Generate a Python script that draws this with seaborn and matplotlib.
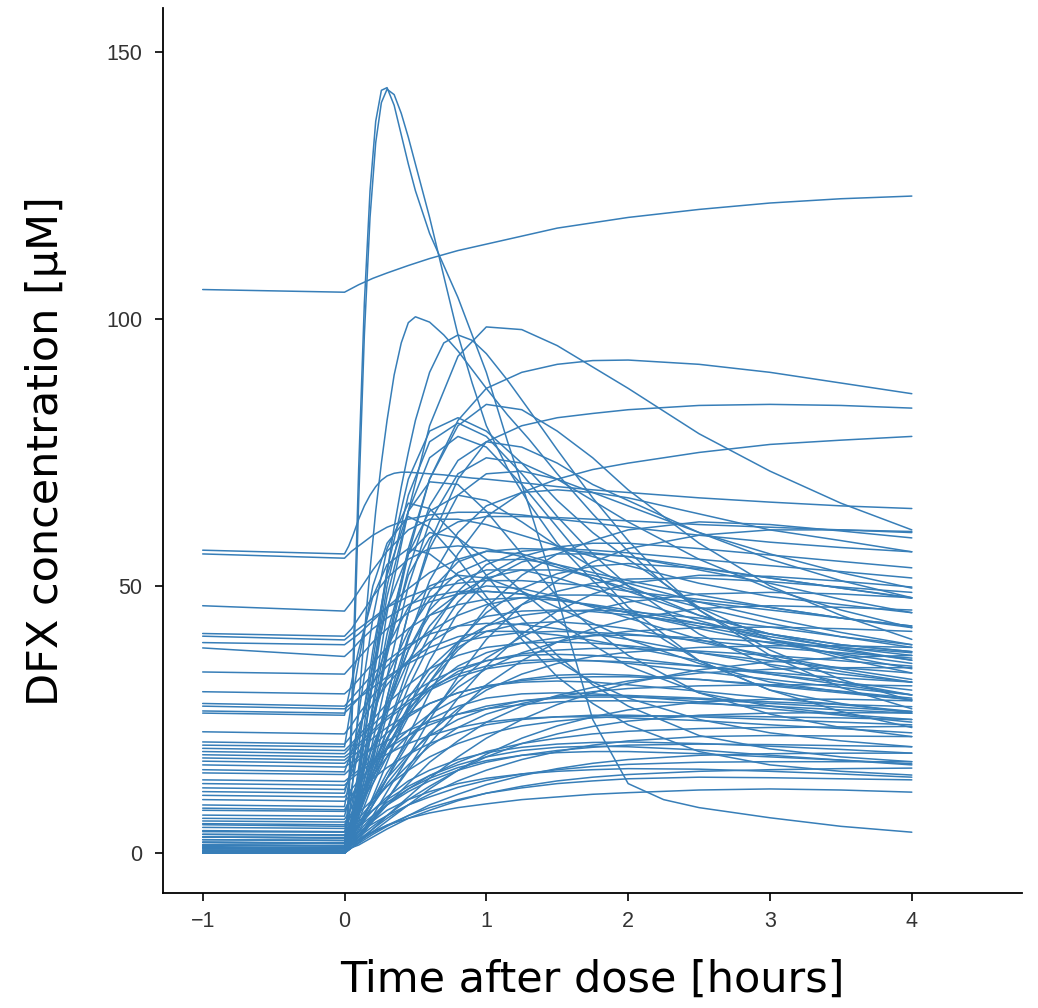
import matplotlib
matplotlib.use("Agg")
import matplotlib.pyplot as plt
import seaborn as sns
import pandas as pd

# Sampling times relative to the dose (hours)
hours = [-1, 0, 0.05, 0.1, 0.2, 0.3, 0.45, 0.6, 0.8, 1.0, 1.25, 1.5, 1.75, 2.0, 2.5, 3.0, 3.5, 4.0]
# Denser sampling used for the patients with a rapid early peak
hours_fine = [-1, 0, 0.03, 0.06, 0.1, 0.14, 0.18, 0.22, 0.26, 0.3, 0.35, 0.4, 0.45, 0.5, 0.6,
              0.7, 0.8, 0.9, 1.0, 1.15, 1.3, 1.5, 1.75, 2.0, 2.25, 2.5, 3.0, 3.5, 4.0]

# Rapid-absorption patients (uM), sampled on hours_fine
p02 = [0.3, 0.2, 12, 35, 72, 103, 124, 137, 142.8, 143.3, 140, 134.5, 129, 124, 116, 110, 104, 97, 90,
       77, 65, 48, 25, 13, 10, 8.5, 6.6, 5.0, 3.9]
p03 = [1.0, 0.8, 9, 30, 66, 97, 119, 133, 140.5, 143, 142, 138.5, 134, 129, 119, 108, 97, 88, 80,
       72, 65.5, 58, 51, 45, 40, 36, 30.5, 26.5, 23.5]
p04 = [0.5, 0.4, 6, 14, 28, 41, 53, 64, 73, 81, 89.5, 95.5, 99.3, 100.4, 99.4, 97, 94, 90.5, 87,
       82, 77.5, 71, 63.5, 56.5, 50.5, 45.5, 38, 32.5, 28.5]
p06 = [0.0, 0.0, 2.5, 6, 13, 21, 29, 37, 45, 52.5, 61, 68.5, 75, 81, 90, 95.5, 97, 96, 93.5,
       88.5, 83, 75.5, 66.5, 58.5, 51.5, 45.5, 37, 31, 27]
p10 = [56.7, 56.0, 57.5, 59.5, 62.5, 65, 67, 68.6, 69.8, 70.6, 71.1, 71.3, 71.3, 71.2, 71, 70.8, 70.5, 70.2, 70,
       69.6, 69.2, 68.6, 68, 67.5, 67, 66.5, 65.7, 65, 64.5]

# Remaining patients (uM), sampled on hours
p01 = [105.5, 105.0, 105.7, 106.4, 107.6, 108.6, 110.0, 111.3, 112.8, 114.0, 115.5, 117.0, 118.0, 119.0, 120.5, 121.7, 122.5, 123.0]
p05 = [2.0, 1.8, 6, 12, 28, 45, 64, 80, 93, 98.5, 98, 95, 91, 87, 78.5, 71.5, 65.5, 60.5]
p07 = [1.5, 1.3, 5, 11, 25, 39, 57, 70, 81, 87, 90, 91.5, 92.2, 92.3, 91.5, 90, 88, 86]
p08 = [0.8, 0.6, 3.5, 8, 18, 29, 45, 58, 70, 77, 80, 81.5, 82.3, 83, 83.8, 84, 83.8, 83.3]
p09 = [3.0, 2.8, 5, 8, 15, 23, 35, 46, 56, 63, 67.5, 70, 71.8, 73, 75, 76.5, 77.3, 78]
p11 = [56.0, 55.2, 56.5, 57.5, 59.5, 61, 62.5, 63.3, 63.8, 63.8, 63.3, 62.5, 61.8, 61, 59.5, 58.2, 57.2, 56.4]
p12 = [0.2, 0.1, 4, 10, 24, 38, 56, 70, 80, 84, 83, 79, 74, 68, 58, 50, 44.5, 40]
p13 = [0.0, 0.0, 7, 16, 36, 53, 70, 79, 81.5, 79, 73, 66, 60, 55, 46, 40, 36.5, 33.7]
p14 = [1.2, 1.0, 6, 14, 33, 50, 67, 77, 80.5, 78, 71, 63, 56, 50, 41, 35, 32, 29.6]
p15 = [4.2, 4.0, 9, 15, 32, 48, 64, 74, 78, 76, 69, 61, 53, 46, 36, 30.5, 28, 26.2]
p16 = [3.5, 3.3, 6, 11, 24, 37, 53, 65, 73.5, 77, 76, 73, 69, 66, 60, 55, 51, 47.8]
p17 = [0.5, 0.4, 3, 7, 17, 29, 45, 57, 67, 71, 71.5, 70, 67.5, 65, 60, 56, 52.5, 49.6]
p18 = [7.1, 6.9, 12, 20, 38, 52, 64, 69.5, 69, 64, 56, 48, 42, 37, 30, 26, 23.5, 21.8]
p19 = [9.0, 8.7, 16, 26, 44, 57, 65.5, 64.5, 59, 52, 44, 37, 31.5, 27.5, 22, 19.5, 18, 17.1]
p20 = [20.2, 19.9, 28, 36, 50, 58, 63, 61, 55, 48, 40, 33, 28, 24, 19, 16.5, 15.3, 14.6]
p21 = [11.5, 11.2, 16, 22, 35, 46, 56, 60, 59, 55, 49, 43.5, 39, 35, 30, 27.5, 26, 25]
p22 = [26.2, 25.8, 32, 38, 48, 54, 57, 56, 52, 47, 41, 36, 32, 29, 25, 22.5, 21, 19.9]
p23 = [0.0, 0.0, 4, 9, 21, 33, 50, 62, 71, 74, 73, 70, 66, 62, 55, 49.5, 45.5, 42.2]
p24 = [2.0, 1.8, 6, 12, 27, 41, 56, 64, 67, 66, 62, 57.5, 53.5, 50, 44.5, 41, 39, 37.7]
p25 = [0.0, 0.0, 3, 7, 16, 26, 40, 51, 60, 65, 67.5, 68, 67.5, 66.5, 63.5, 60.5, 58.5, 56.4]
p26 = [2.5, 2.3, 3.5, 5, 9, 14, 22, 30, 39, 46, 52, 56, 58.5, 60.5, 62, 61.5, 60.3, 59]
p27 = [0.0, 0.0, 1.5, 3, 7, 11.5, 18, 25, 33, 40, 46.5, 51, 54.5, 57, 59.5, 60.5, 60.5, 60.2]
p28 = [1.5, 1.3, 4, 7, 14, 21, 31, 39, 47, 52, 55.5, 57.3, 58, 58, 57, 55.8, 54.6, 53.4]
p29 = [5.3, 5.0, 7, 9.5, 16, 23, 33, 41, 49, 54, 56.5, 57, 56.7, 56.2, 55, 53.8, 52.7, 51.5]
p30 = [0.2, 0.1, 2, 4.5, 10.5, 17, 27, 36, 45, 51, 54.5, 56, 56, 55.5, 53, 50.5, 47.5, 45]
p31 = [12.2, 11.9, 15, 18.5, 26, 33, 41.5, 47.5, 52.5, 54.8, 55, 54, 52.5, 51, 48.3, 46, 44, 42.2]
p32 = [6.0, 5.8, 7, 9, 13, 18, 25.5, 32, 39.5, 45, 49.5, 52.3, 53.7, 54.2, 53.3, 51.5, 49.6, 47.7]
p33 = [8.4, 8.1, 10.5, 13.5, 20, 27, 36, 42.5, 48.5, 51.5, 53, 53, 52, 50.5, 47, 44, 41.3, 39]
p34 = [0.0, 0.0, 1, 2.5, 6, 10, 16, 22, 29, 35, 41, 45.3, 48.5, 50.5, 52, 51.8, 50.9, 49.8]
p35 = [3.0, 2.8, 6, 10, 19, 28, 38, 44.5, 48.5, 50, 49.5, 48, 46, 44, 40, 36.5, 34, 32]
p36 = [1.0, 0.9, 4, 8.5, 18, 28, 40.5, 49, 54.5, 56.5, 56, 54, 51.5, 49, 44.5, 41, 38.3, 36.1]
p37 = [15.6, 15.2, 19, 23, 31.5, 38.5, 46, 50, 52, 51.5, 49, 46, 43, 40, 35.5, 32, 30.2, 28.7]
p38 = [0.5, 0.4, 1.5, 3, 6.5, 10, 15.5, 20.5, 26.5, 31.5, 36, 39.5, 42, 43.8, 45.8, 46.3, 46, 45.5]
p39 = [46.3, 45.3, 47, 49, 53, 56.5, 60.5, 62.5, 62.5, 61.5, 59.5, 57.5, 55.5, 53.8, 50.5, 48, 46.5, 45]
p40 = [41.1, 40.6, 42, 44, 48, 51.5, 55, 57, 57.5, 57, 55.5, 53.5, 51.5, 49.5, 46, 43, 40.5, 38.5]
p41 = [40.6, 39.9, 41, 42, 44, 46, 48, 49.5, 50.5, 51, 51, 50.5, 50, 49, 47.5, 46, 44, 42.5]
p42 = [39.4, 39.0, 40, 41, 43.5, 46, 49.5, 52.5, 55, 56.5, 57, 56.8, 56.2, 55.5, 53.5, 51.5, 49.6, 47.8]
p43 = [38.4, 36.8, 38, 39.5, 42, 44, 46.5, 48, 49, 49, 48.5, 47.5, 46.3, 45, 42.5, 40, 38, 36.1]
p44 = [33.9, 33.5, 35, 36.5, 39.5, 42, 45, 47, 48.5, 49, 48.5, 47.5, 46.3, 45, 42, 39.3, 37.3, 35.5]
p45 = [30.2, 29.8, 31, 32.5, 35.5, 38.5, 42, 44.5, 46.5, 47.5, 47.8, 47.3, 46.5, 45.5, 43, 40.5, 38.5, 37]
p46 = [28.0, 27.5, 29, 30.5, 33.5, 36, 39, 41, 42.5, 43, 42.8, 42, 41, 40, 37.5, 35.3, 33.5, 32]
p47 = [27.5, 27.0, 28, 29, 31, 33, 35.5, 37.5, 39.5, 40.5, 41.3, 41.5, 41.3, 41, 39.8, 38.5, 37.5, 36.5]
p48 = [26.6, 26.2, 27.5, 29, 32, 35, 38.5, 41.5, 44.5, 46.5, 47.8, 48.3, 48.3, 48, 47, 45.5, 44, 42.5]
p49 = [22.7, 22.3, 24, 26, 29.5, 32.5, 36, 38.5, 40.5, 41.5, 41.5, 40.8, 39.8, 38.6, 36, 33.5, 31.5, 29.6]
p50 = [20.8, 20.4, 22, 24, 28, 31.5, 36, 39.5, 42.5, 44.3, 45.3, 45.5, 45.2, 44.6, 43, 41, 39, 37.7]
p51 = [19.6, 19.2, 20.5, 22, 25, 28, 31.5, 34.5, 37, 38.5, 39.3, 39.5, 39.3, 38.8, 37.5, 36, 34.7, 33.7]
p52 = [19.0, 18.6, 20, 21.5, 24, 26.5, 29.5, 32, 34.5, 36, 37.3, 38, 38.3, 38.3, 37.8, 37, 36, 35]
p53 = [18.4, 18.0, 19, 20.5, 23, 25.5, 28.5, 31, 33.5, 35, 36, 36.3, 36, 35.5, 34, 32.5, 31, 29.6]
p54 = [17.8, 17.4, 18.5, 20, 22.5, 25, 28, 30.5, 33, 34.5, 35.5, 36, 36, 35.8, 35, 33.8, 32.8, 32]
p55 = [17.2, 16.8, 18, 19, 21.5, 23.5, 26, 28, 30, 31.3, 32.3, 32.8, 33, 33, 32.5, 31.5, 30.3, 29]
p56 = [16.5, 16.1, 17, 18, 19.5, 21, 23, 24.5, 26, 27, 27.8, 28.3, 28.5, 28.5, 28, 27.5, 26.8, 26.2]
p57 = [15.0, 14.7, 16, 17.5, 20, 22.5, 25.5, 28, 30, 31.3, 32, 32.2, 32, 31.5, 30.3, 29, 27.8, 26.5]
p58 = [13.7, 13.4, 14.5, 15.5, 17.5, 19.5, 22, 24, 26, 27.5, 28.5, 29, 29.2, 29.2, 28.8, 28, 27.3, 26.5]
p59 = [13.0, 12.7, 14, 15, 17, 18.5, 20.5, 22, 23.5, 24.5, 25.2, 25.5, 25.5, 25.3, 24.8, 24, 23.3, 22.5]
p60 = [10.8, 10.5, 12, 13.5, 16.5, 19.5, 23, 26, 29, 31, 32.5, 33.3, 33.5, 33.3, 32.5, 31.3, 30, 28.7]
p61 = [10.0, 9.7, 11, 12, 14, 16, 18.5, 20.5, 22.5, 24, 25, 25.5, 25.8, 25.8, 25.5, 25, 24.5, 24]
p62 = [0.0, 0.0, 1.5, 2.5, 4, 5.2, 6.5, 7.5, 8.5, 9.2, 10, 10.5, 11, 11.3, 11.8, 12, 11.8, 11.4]
p63 = [0.3, 0.2, 2, 3.5, 6, 8, 10, 11.5, 13, 14, 14.8, 15.3, 15.6, 15.8, 15.7, 15.3, 14.8, 14.2]
p64 = [1.0, 0.9, 2.5, 4, 7, 9.5, 12, 14, 16, 17.3, 18.3, 18.8, 19, 19, 18.6, 18, 17.4, 16.7]
p65 = [2.0, 1.9, 3.5, 5, 8, 10.5, 13.5, 15.5, 17.5, 18.8, 19.8, 20.4, 20.7, 20.8, 20.5, 20, 19.4, 18.7]
p66 = [0.0, 0.0, 2, 3.5, 6.5, 9, 12, 14.5, 17, 19, 20.5, 21.5, 22.3, 22.8, 23.3, 23.5, 23.6, 23.7]
p67 = [4.8, 4.6, 6, 7.5, 10, 12.5, 15.5, 18, 20.5, 22.3, 23.8, 24.7, 25.3, 25.6, 25.7, 25.5, 25.3, 25]
p68 = [0.5, 0.4, 3, 5.5, 10, 14, 18.5, 22, 25, 27, 28.5, 29.2, 29.5, 29.5, 29, 28.3, 27.8, 27.4]
p69 = [6.5, 6.3, 8.5, 10.5, 14.5, 18, 22, 25, 27.5, 29, 29.8, 30, 29.8, 29.4, 28.3, 27, 25.8, 24.5]
p70 = [3.5, 3.4, 5, 6.5, 9.5, 12.5, 16.5, 20, 23.5, 26, 28, 29.3, 30.2, 30.8, 31.3, 31.5, 31.5, 31.3]
p71 = [0.0, 0.0, 1.5, 3, 6, 9, 13, 17, 21, 24.5, 27.5, 29.5, 31, 32.2, 33.7, 34.4, 34.7, 34.7]
p72 = [1.5, 1.4, 3, 5, 9, 13, 18, 22.5, 27, 30.5, 33.5, 35.5, 36.8, 37.6, 38.5, 38.8, 38.8, 38.5]
p73 = [2.5, 2.4, 5, 8, 14, 19.5, 26, 30.5, 34, 36, 37, 37.2, 37, 36.5, 35, 33.5, 32, 30.5]
p74 = [0.0, 0.0, 2.5, 5, 10, 15, 21, 26, 31, 34.5, 37.5, 39.5, 40.7, 41.5, 42.2, 42.3, 42, 41.5]
p75 = [8.0, 7.8, 10, 12.5, 17, 21.5, 27, 31, 35, 37.5, 39.3, 40.3, 40.7, 40.8, 40.3, 39.5, 38.5, 37.5]
p76 = [0.2, 0.1, 1, 2, 4.5, 7, 10.5, 14, 18, 21.5, 25, 27.8, 30, 31.8, 34.3, 35.8, 36.6, 37]
p77 = [0.0, 0.0, 1, 2, 4, 6, 9, 12, 15.5, 18.5, 21.5, 23.8, 25.5, 26.8, 28.3, 28.8, 28.8, 28.5]
p78 = [1.0, 0.9, 2, 3, 5, 7, 10, 12.5, 15.5, 18, 20.5, 22.3, 23.7, 24.7, 25.8, 26.2, 26.3, 26.2]
p79 = [0.5, 0.4, 1.5, 2.5, 4.5, 6.5, 9, 11, 13.5, 15.5, 17.5, 19, 20.2, 21, 21.8, 22, 21.9, 21.8]
p80 = [3.0, 2.9, 4, 5, 7, 9, 11.5, 13.5, 15.5, 17, 18.3, 19.2, 19.8, 20.2, 20.4, 20.3, 20.1, 19.9]
p81 = [0.0, 0.0, 1, 1.8, 3.5, 5, 7, 9, 11, 12.8, 14.5, 15.8, 16.8, 17.5, 18.3, 18.6, 18.7, 18.7]
p82 = [2.0, 1.9, 3, 4, 5.5, 7, 9, 10.5, 12.3, 13.6, 14.8, 15.6, 16.2, 16.6, 17, 17.1, 17.1, 17.1]
p83 = [0.0, 0.0, 1, 1.5, 3, 4.5, 6.5, 8, 9.8, 11.2, 12.5, 13.5, 14.2, 14.7, 15.3, 15.6, 15.8, 15.9]
p84 = [0.5, 0.4, 1.5, 2.3, 3.8, 5.2, 7, 8.5, 10, 11.2, 12.2, 13, 13.5, 13.9, 14.2, 14.1, 13.9, 13.7]
p85 = [4.0, 3.9, 5, 6, 8, 10, 12.5, 14.5, 16.5, 18, 19.2, 19.8, 20, 19.9, 19.3, 18.3, 17.4, 16.5]
p86 = [0.0, 0.0, 3, 6, 13, 19.5, 27.5, 33.5, 38.5, 41.5, 43, 43.3, 42.8, 42, 39.5, 37, 34.5, 32.5]
p87 = [1.5, 1.4, 4.5, 8, 15, 21.5, 29, 34.5, 39.5, 42.5, 44.5, 45.3, 45.5, 45.2, 44, 42.3, 40.5, 39]
p88 = [0.0, 0.0, 2, 4, 9, 14, 20.5, 26, 32, 36.5, 40.5, 43.5, 45.5, 47, 48.5, 48.8, 48.5, 47.8]
p89 = [5.5, 5.3, 7.5, 10, 15, 20, 26.5, 32, 38, 42.5, 46.5, 49, 50.5, 51.3, 51.5, 50.8, 49.8, 48.8]
p90 = [0.0, 0.0, 4, 8.5, 18, 27, 38, 45.5, 51, 53, 53, 51.5, 49.5, 47.5, 43.5, 40, 37, 34.5]
p91 = [0.0, 0.0, 5, 11, 25, 38, 52, 59, 62, 63, 63, 62.8, 62.5, 62.2, 61.5, 61, 60.5, 60.0]

fast_profiles = [p02, p03, p04, p06, p10]
profiles = [p01, p05, p07, p08, p09, p11, p12, p13, p14, p15, p16, p17, p18, p19, p20,
            p21, p22, p23, p24, p25, p26, p27, p28, p29, p30, p31, p32, p33, p34, p35,
            p36, p37, p38, p39, p40, p41, p42, p43, p44, p45, p46, p47, p48, p49, p50,
            p51, p52, p53, p54, p55, p56, p57, p58, p59, p60, p61, p62, p63, p64, p65,
            p66, p67, p68, p69, p70, p71, p72, p73, p74, p75, p76, p77, p78, p79, p80,
            p81, p82, p83, p84, p85, p86, p87, p88, p89, p90, p91]

# Long-form table: one row per patient and time point
rows = []
pid = 0
for grid, group in ((hours_fine, fast_profiles), (hours, profiles)):
    for conc in group:
        pid += 1
        for t, c in zip(grid, conc):
            rows.append({"patient": pid, "hours": t, "conc": c})
df = pd.DataFrame(rows)

sns.set_style("ticks")
plt.rcParams["font.family"] = ["DejaVu Sans"]

fig = plt.figure(figsize=(10.38, 10.08), dpi=100)
ax = fig.add_axes([0.157, 0.114, 0.828, 0.878])

sns.lineplot(data=df, x="hours", y="conc", units="patient", estimator=None,
             color="#377eb8", linewidth=1.1, ax=ax, legend=False)

ax.set_xlim(-1.28, 4.78)
ax.set_ylim(-7.5, 158.2)
ax.set_xticks([-1, 0, 1, 2, 3, 4])
ax.set_yticks([0, 50, 100, 150])
ax.set_xticklabels(["\u22121", "0", "1", "2", "3", "4"])

for lab in ax.get_xticklabels() + ax.get_yticklabels():
    lab.set_fontfamily("Liberation Sans")
    lab.set_fontsize(15.5)
    lab.set_color("#333333")

ax.tick_params(axis="both", direction="out", length=6, width=1.2, color="black")
ax.tick_params(axis="y", pad=9)
ax.tick_params(axis="x", pad=7)
for side in ("left", "bottom"):
    ax.spines[side].set_linewidth(1.3)
    ax.spines[side].set_color("black")
sns.despine(ax=ax)

ax.set_xlabel("Time after dose [hours]", fontsize=31, labelpad=19, color="black")
ax.set_ylabel("DFX concentration [\u00b5M]", fontsize=31, labelpad=28, color="black")

fig.savefig("out.png", dpi=100)
